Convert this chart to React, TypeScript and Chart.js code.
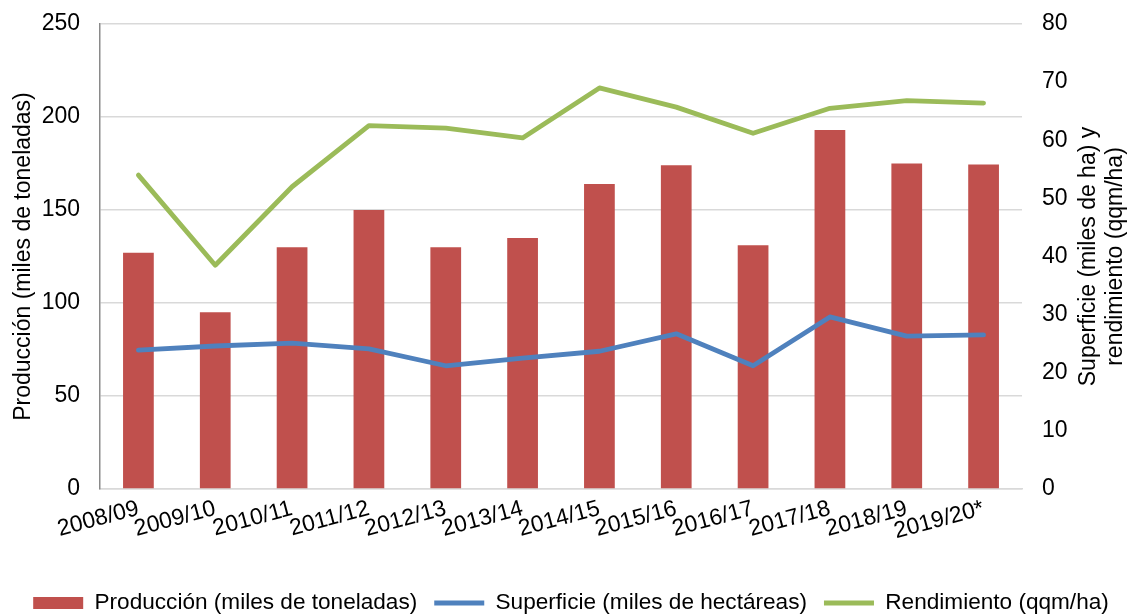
import React, { useEffect, useRef } from "react";
import { Chart, registerables } from "chart.js";

Chart.register(...registerables);

const categories = [
  "2008/09", "2009/10", "2010/11", "2011/12", "2012/13", "2013/14",
  "2014/15", "2015/16", "2016/17", "2017/18", "2018/19", "2019/20*",
];
const produccion = [127, 95, 130, 150, 130, 135, 164, 174, 131, 193, 175, 174.5];
const superficie = [23.9, 24.6, 25.1, 24.1, 21.2, 22.5, 23.7, 26.7, 21.2, 29.6, 26.3, 26.5];
const rendimiento = [54, 38.5, 52, 62.5, 62.1, 60.4, 69, 65.7, 61.2, 65.5, 66.8, 66.4];
const leftTicks = [0, 50, 100, 150, 200, 250];
const rightTicks = [0, 10, 20, 30, 40, 50, 60, 70, 80];

const FONT = "'Liberation Sans', Arial, sans-serif";
const FS = 23;
const LFS = 22.6;
const RED = "#C0504D";
const BLUE = "#4F81BD";
const GREEN = "#9BBB59";
const GRID = "#d9d9d9";

const rightTitle = ["Superficie (miles de ha) y", "rendimiento (qqm/ha)"];

const rightTitlePlugin = {
  id: "rightTitle",
  afterLayout(chart: any) {
    if (chart.legend) {
      chart.legend.left += 6;
      chart.legend.right += 6;
    }
  },
  afterDraw(chart: any) {
    const { ctx, chartArea } = chart;
    const s = chart.scales.y1;
    const cy = (chartArea.top + chartArea.bottom) / 2;
    ctx.save();
    ctx.fillStyle = "#000";
    ctx.font = `${FS}px ${FONT}`;
    ctx.textAlign = "center";
    ctx.textBaseline = "middle";
    const xs = [s.left + 67, s.left + 94];
    rightTitle.forEach((t, i) => {
      ctx.save();
      ctx.translate(xs[i], cy);
      ctx.rotate(-Math.PI / 2);
      ctx.fillText(t, 0, 0);
      ctx.restore();
    });
    ctx.restore();
  },
};

const noPad = (w: number) => (s: any) => {
  s.width = w;
  s.paddingTop = 0;
  s.paddingBottom = 0;
};

export default function App() {
  const ref = useRef<HTMLCanvasElement>(null);
  useEffect(() => {
    if (!ref.current) return;
    const chart = new Chart(ref.current, {
      type: "bar",
      data: {
        labels: categories,
        datasets: [
          {
            type: "bar",
            label: "Producción (miles de toneladas)",
            data: produccion,
            backgroundColor: RED,
            borderWidth: 0,
            barPercentage: 0.8,
            categoryPercentage: 0.5,
            yAxisID: "y",
            pointStyle: "rect",
            order: 3,
          } as any,
          {
            type: "line",
            label: "Superficie (miles de hectáreas)",
            data: superficie,
            borderColor: BLUE,
            backgroundColor: BLUE,
            borderWidth: 4.8,
            pointRadius: 0,
            tension: 0,
            borderCapStyle: "round",
            borderJoinStyle: "round",
            yAxisID: "y1",
            pointStyle: "line",
            order: 2,
          } as any,
          {
            type: "line",
            label: "Rendimiento (qqm/ha)",
            data: rendimiento,
            borderColor: GREEN,
            backgroundColor: GREEN,
            borderWidth: 4.8,
            pointRadius: 0,
            tension: 0,
            borderCapStyle: "round",
            borderJoinStyle: "round",
            yAxisID: "y1",
            pointStyle: "line",
            order: 1,
          } as any,
        ],
      },
      options: {
        responsive: false,
        animation: false,
        layout: { padding: { top: 24, left: 0, right: 0, bottom: -9.3 } },
        plugins: {
          tooltip: { enabled: false },
          legend: {
            position: "bottom",
            labels: {
              usePointStyle: true,
              pointStyleWidth: 50,
              boxHeight: 12,
              padding: 17,
              color: "#000",
              font: { family: FONT, size: LFS },
              sort: (a: any, b: any) => a.datasetIndex - b.datasetIndex,
            },
          },
        },
        scales: {
          x: {
            grid: { display: false, drawTicks: false },
            border: { display: true, color: GRID, width: 1.5 },
            ticks: {
              color: "#000",
              font: { family: FONT, size: FS },
              minRotation: 15,
              maxRotation: 15,
              autoSkip: false,
              padding: 6,
            },
            afterFit: (s: any) => {
              s.height = 85.7;
            },
          },
          y: {
            position: "left",
            min: 0,
            max: 250,
            afterBuildTicks: (s: any) => {
              s.ticks = leftTicks.map((v) => ({ value: v }));
            },
            grid: { color: GRID, lineWidth: 1.5, drawTicks: false },
            border: { display: true, color: "#8a8a8a", width: 1.5 },
            ticks: { color: "#000", font: { family: FONT, size: FS }, padding: 20 },
            title: {
              display: true,
              text: "Producción (miles de toneladas)",
              color: "#000",
              font: { family: FONT, size: FS },
              padding: { top: 10, bottom: 0 },
            },
            afterFit: noPad(100),
          },
          y1: {
            position: "right",
            min: 0,
            max: 80,
            afterBuildTicks: (s: any) => {
              s.ticks = rightTicks.map((v) => ({ value: v }));
            },
            grid: { display: false, drawTicks: false },
            border: { display: false },
            ticks: { color: "#000", font: { family: FONT, size: FS }, padding: 20 },
            afterFit: noPad(108),
          },
        },
      } as any,
      plugins: [rightTitlePlugin],
    });
    return () => chart.destroy();
  }, []);
  return (
    <canvas
      ref={ref}
      width={1130}
      height={615}
      style={{ position: "fixed", left: 0, top: 0, display: "block", background: "#fff" }}
    />
  );
}
